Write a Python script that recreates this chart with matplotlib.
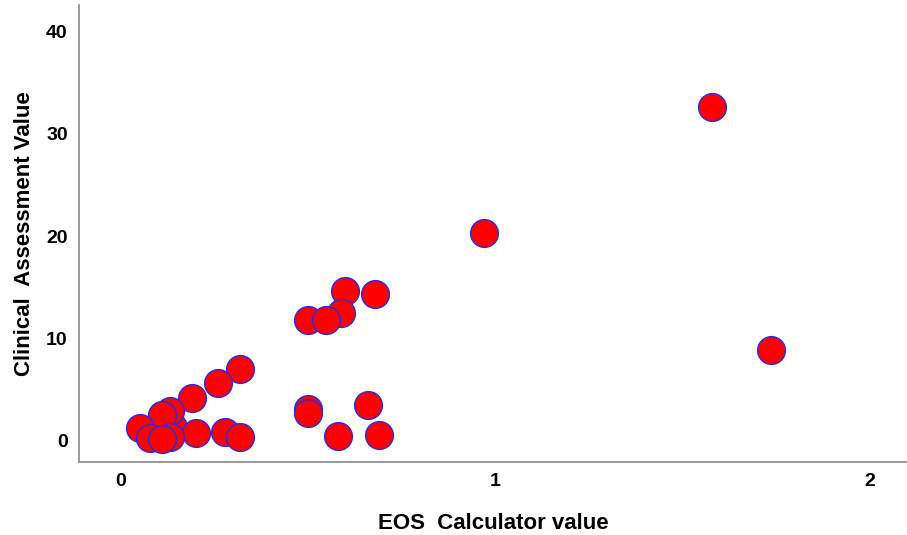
import matplotlib
matplotlib.use("Agg")
import matplotlib.pyplot as plt

# EOS calculator value vs clinical assessment value
eos_value = [0.140, 1.580, 0.971, 1.738, 0.599, 0.679, 0.588, 0.500,
             0.548, 0.318, 0.259, 0.190, 0.660, 0.500, 0.500, 0.131,
             0.110, 0.051, 0.278, 0.200, 0.318, 0.580, 0.690, 0.078,
             0.131, 0.110]
clinical_value = [1.3, 32.6, 20.3, 8.8, 14.6, 14.3, 12.5, 11.8,
                  11.8, 7.0, 5.6, 4.1, 3.4, 3.1, 2.7, 2.9,
                  2.45, 1.2, 0.8, 0.7, 0.3, 0.4, 0.5, 0.2,
                  0.3, 0.1]

x_ticks = [0, 1, 2]
y_ticks = [0, 10, 20, 30, 40]

plt.rcParams['font.family'] = ['Liberation Sans', 'DejaVu Sans']

fig = plt.figure(figsize=(9.07, 5.35), dpi=100)
ax = fig.add_axes([0.087, 0.136, 0.913, 0.854])

ax.scatter(eos_value, clinical_value, s=400, c='#ff0000',
           edgecolors='#2a2ae0', linewidths=1.0, zorder=3)

ax.set_xlim(-0.112, 2.10)
ax.set_ylim(-2.16, 42.6)
ax.set_xticks(x_ticks)
ax.set_yticks(y_ticks)
ax.tick_params(length=0, labelsize=14, pad=8)
for lbl in ax.get_xticklabels() + ax.get_yticklabels():
    lbl.set_fontweight('bold')

ax.set_xlabel('EOS  Calculator value', fontsize=16, fontweight='bold', labelpad=16)
ax.set_ylabel('Clinical  Assessment Value', fontsize=16, fontweight='bold', labelpad=8)

for side in ['top', 'right']:
    ax.spines[side].set_visible(False)
for side in ['left', 'bottom']:
    ax.spines[side].set_color('#888888')
    ax.spines[side].set_linewidth(1.2)

fig.savefig('out.png', dpi=100)
